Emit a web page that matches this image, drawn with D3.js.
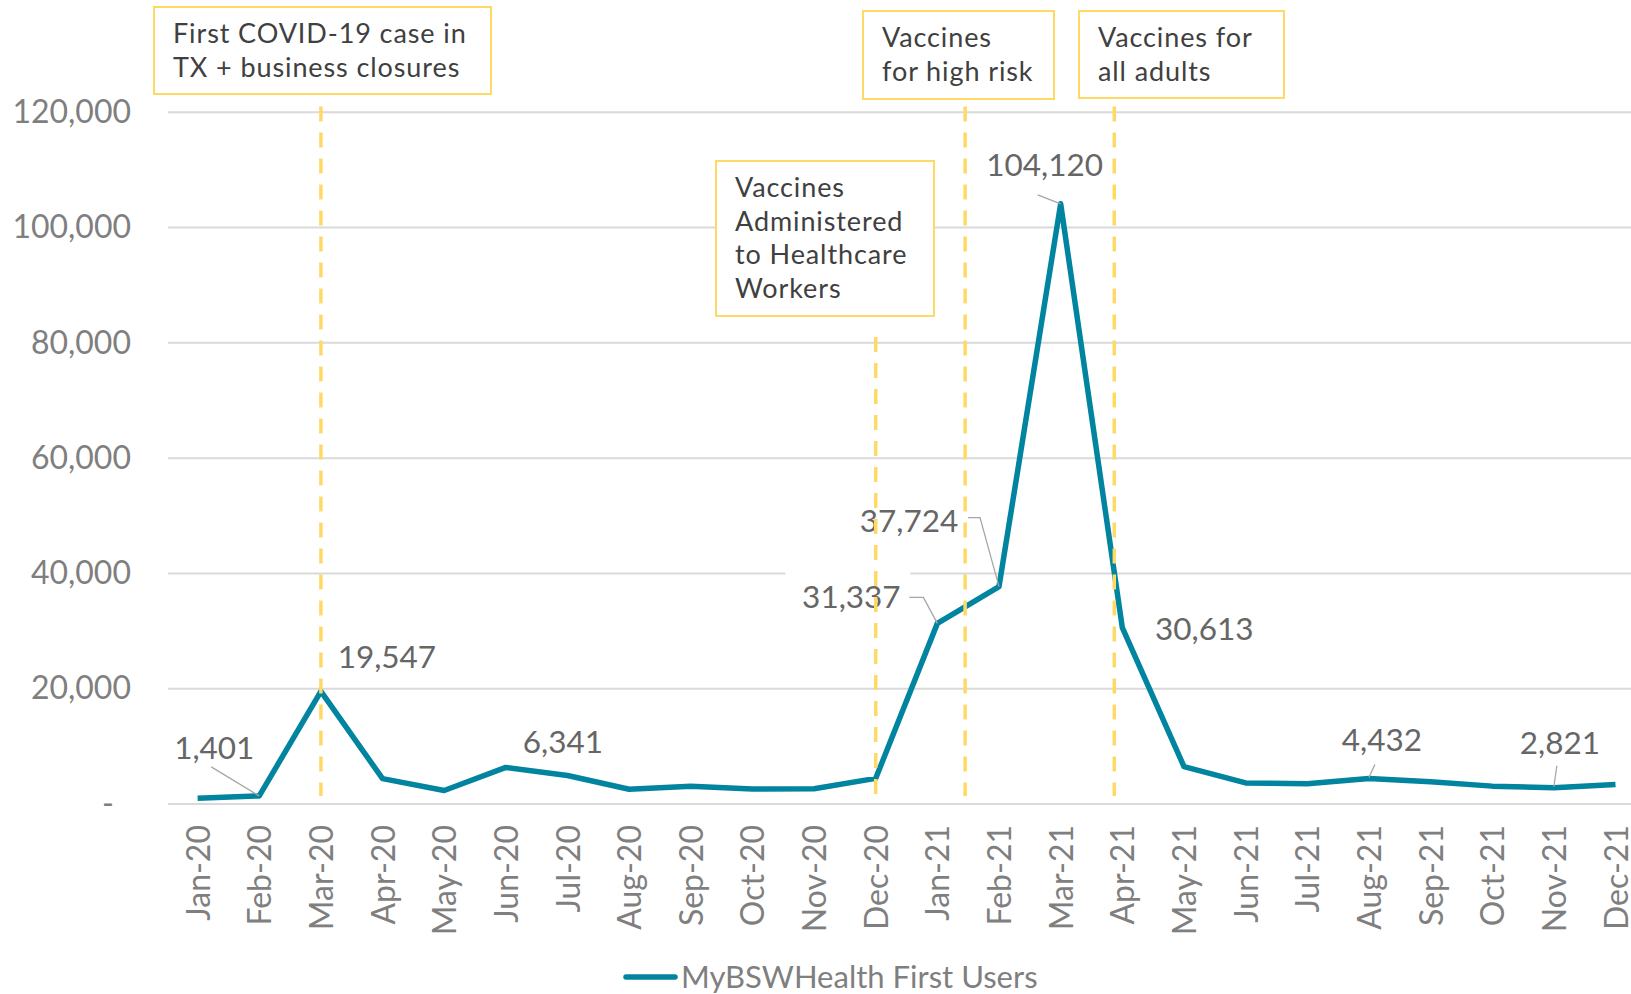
<!DOCTYPE html>
<html>
<head>
<meta charset="utf-8">
<script src="https://cdn.jsdelivr.net/npm/d3@7"></script>
<style>
  body { margin: 0; background: #fff; }
  svg text { font-family: Lato, "Open Sans", sans-serif; }
</style>
</head>
<body>
<div id="chart"></div>
<script>
// Data
const months = ["Jan-20", "Feb-20", "Mar-20", "Apr-20", "May-20", "Jun-20", "Jul-20", "Aug-20",
    "Sep-20", "Oct-20", "Nov-20", "Dec-20", "Jan-21", "Feb-21", "Mar-21", "Apr-21",
    "May-21", "Jun-21", "Jul-21", "Aug-21", "Sep-21", "Oct-21", "Nov-21", "Dec-21"];
const firstUsers = [1000, 1401, 19547, 4400, 2350, 6341, 4950, 2550, 3100, 2600, 2650, 4450,
    31337, 37724, 104120, 30613, 6500, 3650, 3500, 4432, 3850, 3100, 2821, 3400];
const yTicks = [0, 20000, 40000, 60000, 80000, 100000, 120000];
const yTickLabels = ["-", "20,000", "40,000", "60,000", "80,000", "100,000", "120,000"];
const seriesName = "MyBSWHealth First Users";

// labelled points (month index)
const labelIdx = [1, 2, 5, 12, 13, 14, 15, 19, 22];

// events: month position (fractional index), dashed line extent in data units
const eventPos = [2, 11, 12.45, 14.87];
const eventTop = [121000, 81000, 121000, 121000];
const eventBottom = [1400, 900, 1400, 1400];
const eventText = [
    ["First COVID-19 case in", "TX + business closures"],
    ["Vaccines", "Administered", "to Healthcare", "Workers"],
    ["Vaccines", "for high risk"],
    ["Vaccines for", "all adults"]
];

// layout
const W = 1631, H = 994;
const boxes = [
    { x: 154, y: 7, w: 337, h: 87 },
    { x: 716, y: 161, w: 218, h: 155 },
    { x: 863, y: 11, w: 191, h: 88 },
    { x: 1079, y: 11, w: 205, h: 87 }
];
const labelOffsets = [[-45, -37], [66, -23], [57, -14], [-86, -15], [-90, -55], [-16, -28], [82, 12], [13, -27], [6, -34]];
const leaders = {
    1: [[-48, -29], [0, 0]],
    12: [[-28, -26], [-14, -26], [0, 0]],
    13: [[-31, -69], [-19, -69], [0, 0]],
    14: [[-23, -9], [0, 0]],
    19: [[6, -14], [0, -1]],
    22: [[3, -22], [0, -1]]
};

const lineColor = "#00849f";
const gold = "#ffd966";

const svg = d3.select("#chart")
    .append("svg")
    .attr("width", W)
    .attr("height", H);

// Scales
const x = d3.scaleLinear()
    .domain([0, months.length - 1])
    .range([197.6, 1615.5]);

const y = d3.scaleLinear()
    .domain([0, 120000])
    .range([804, 112.3]);

// Gridlines
svg.selectAll(".grid")
    .data(yTicks)
    .enter()
    .append("line")
    .attr("class", "grid")
    .attr("x1", 168)
    .attr("x2", W)
    .attr("y1", d => y(d))
    .attr("y2", d => y(d))
    .style("stroke", "#d9d9d9")
    .style("stroke-width", 2);

// Y axis
const yAxis = svg.append("g")
    .attr("transform", "translate(131,0)")
    .call(d3.axisLeft(y)
        .tickValues(yTicks)
        .tickSize(0)
        .tickPadding(0)
        .tickFormat((d, i) => yTickLabels[i]));
yAxis.select(".domain").remove();
yAxis.selectAll("text")
    .style("font-size", "32px")
    .style("fill", "#7f7f7f")
    .attr("dx", (d, i) => i === 0 ? -17 : 0);

// X axis
const xAxis = svg.append("g")
    .attr("transform", "translate(0,825)")
    .call(d3.axisBottom(x)
        .tickValues(d3.range(months.length))
        .tickSize(0)
        .tickPadding(0)
        .tickFormat(i => months[i]));
xAxis.select(".domain").remove();
xAxis.selectAll("text")
    .style("font-size", "32px")
    .style("fill", "#7f7f7f")
    .attr("text-anchor", "end")
    .attr("transform", "rotate(-90)")
    .attr("x", 0)
    .attr("y", 0)
    .attr("dy", "0.36em");

// Line
const line = d3.line()
    .x((d, i) => x(i))
    .y(d => y(d));

svg.append("path")
    .datum(firstUsers)
    .attr("d", line)
    .style("fill", "none")
    .style("stroke", lineColor)
    .style("stroke-width", 5.5)
    .style("stroke-linejoin", "round");

// white box behind the 31,337 label (covers gridline)
svg.append("rect")
    .attr("x", x(12) - 152)
    .attr("y", y(firstUsers[12]) - 52)
    .attr("width", 125)
    .attr("height", 50)
    .style("fill", "#fff");

// Leader lines
Object.keys(leaders).forEach(k => {
    const i = +k;
    svg.append("polyline")
        .attr("points", leaders[k].map(p => [x(i) + p[0], y(firstUsers[i]) + p[1]].join(",")).join(" "))
        .style("fill", "none")
        .style("stroke", "#a6a6a6")
        .style("stroke-width", 1.3);
});

// Data labels
svg.selectAll(".data-label")
    .data(labelIdx)
    .enter()
    .append("text")
    .attr("class", "data-label")
    .attr("x", (d, j) => x(d) + labelOffsets[j][0])
    .attr("y", (d, j) => y(firstUsers[d]) + labelOffsets[j][1])
    .attr("text-anchor", "middle")
    .style("font-size", "31.5px")
    .style("fill", "#666")
    .text(d => d3.format(",")(firstUsers[d]));

// Event dashed lines
svg.selectAll(".event-line")
    .data(eventPos)
    .enter()
    .append("line")
    .attr("class", "event-line")
    .attr("x1", d => x(d))
    .attr("x2", d => x(d))
    .attr("y1", (d, i) => y(eventTop[i]))
    .attr("y2", (d, i) => y(eventBottom[i]))
    .style("stroke", gold)
    .style("stroke-width", 3.5)
    .style("stroke-dasharray", "15,11");

// Event boxes
const ev = svg.selectAll(".event-box")
    .data(eventText)
    .enter()
    .append("g")
    .attr("class", "event-box")
    .attr("transform", (d, i) => `translate(${boxes[i].x},${boxes[i].y})`);

ev.append("rect")
    .attr("width", (d, i) => boxes[i].w)
    .attr("height", (d, i) => boxes[i].h)
    .style("fill", "#fff")
    .style("stroke", gold)
    .style("stroke-width", 2);

ev.each(function(lines) {
    d3.select(this).selectAll("text")
        .data(lines)
        .enter()
        .append("text")
        .attr("x", 19)
        .attr("y", (d, k) => 36 + k * 33.5)
        .style("font-size", "27px")
        .style("letter-spacing", "0.9px")
        .style("fill", "#404040")
        .text(d => d);
});

// Legend
svg.append("line")
    .attr("x1", 626)
    .attr("x2", 675)
    .attr("y1", 977)
    .attr("y2", 977)
    .style("stroke", lineColor)
    .style("stroke-width", 5.5)
    .style("stroke-linecap", "round");

svg.append("text")
    .attr("x", 681)
    .attr("y", 988)
    .style("font-size", "31px")
    .style("fill", "#7f7f7f")
    .text(seriesName);
</script>
</body>
</html>
